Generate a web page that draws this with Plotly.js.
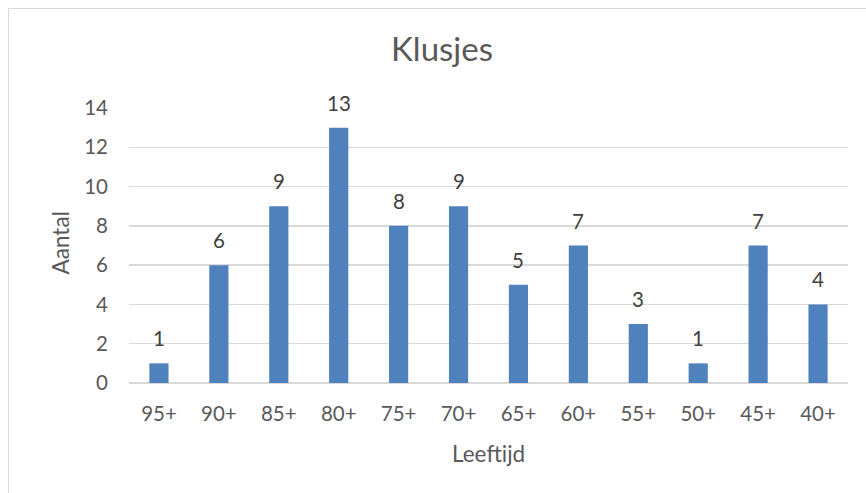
<!DOCTYPE html>
<html>
<head>
<meta charset="utf-8">
<script src="https://cdn.plot.ly/plotly-3.0.1.min.js"></script>
<style>
  html, body { margin: 0; padding: 0; background: #ffffff; }
  #wrap { position: relative; width: 866px; height: 493px; overflow: hidden; }
  #chart { position: absolute; left: 0; top: 0; width: 866px; height: 493px; }
  #frame { position: absolute; left: 8px; top: 8px; width: 900px; height: 520px;
           border-left: 1px solid #d9d9d9; border-top: 1px solid #d9d9d9; pointer-events: none; }
</style>
</head>
<body>
<div id="wrap">
  <div id="chart"></div>
  <div id="frame"></div>
</div>
<script>
const categories = ["95+", "90+", "85+", "80+", "75+", "70+", "65+", "60+", "55+", "50+", "45+", "40+"];
const values = [1, 6, 9, 13, 8, 9, 5, 7, 3, 1, 7, 4];
const yTicks = [0, 2, 4, 6, 8, 10, 12, 14];
const chartTitle = "Klusjes";
const xTitle = "Leeftijd";
const yTitle = "Aantal";

const FONT = "Lato, 'Open Sans', sans-serif";

const labelAnnotations = categories.map((c, i) => ({
  x: c, y: values[i], xref: 'x', yref: 'y',
  text: String(values[i]), showarrow: false,
  yanchor: 'bottom', yshift: 11,
  font: { family: FONT, size: 20.5, color: '#404040' }
}));

const data = [{
  type: 'bar',
  x: categories,
  y: values,
  marker: { color: '#4F81BD' },
  hoverinfo: 'x+y'
}];

const layout = {
  width: 866, height: 493,
  margin: { l: 129, r: 18, t: 108, b: 110 },
  paper_bgcolor: '#ffffff',
  plot_bgcolor: '#ffffff',
  showlegend: false,
  bargap: 0.68,
  font: { family: FONT, color: '#595959' },
  xaxis: {
    type: 'category',
    showgrid: false, zeroline: false, showline: false,
    ticks: '', ticklabelstandoff: 16,
    tickfont: { family: FONT, size: 20.5, color: '#595959' }
  },
  yaxis: {
    range: [0, 14],
    tickvals: yTicks,
    showgrid: true, gridcolor: '#d9d9d9', gridwidth: 1.3,
    zeroline: true, zerolinecolor: '#d9d9d9', zerolinewidth: 1.3,
    showline: false, ticks: '', ticklabelstandoff: 20,
    tickfont: { family: FONT, size: 20.5, color: '#595959' }
  },
  annotations: labelAnnotations.concat([
    { text: chartTitle, xref: 'paper', yref: 'paper', x: 0.5, y: 1, xshift: -47, yshift: 38,
      xanchor: 'center', yanchor: 'bottom', showarrow: false,
      font: { family: FONT, size: 33, color: '#595959' } },
    { text: yTitle, xref: 'paper', yref: 'paper', x: 0, y: 0.5, xshift: -69, yshift: 2,
      xanchor: 'center', yanchor: 'middle', textangle: -90, showarrow: false,
      font: { family: FONT, size: 22.5, color: '#595959' } },
    { text: xTitle, xref: 'paper', yref: 'paper', x: 0.5, y: 0, yshift: -70,
      xanchor: 'center', yanchor: 'middle', showarrow: false,
      font: { family: FONT, size: 22.5, color: '#595959' } }
  ])
};

Plotly.newPlot('chart', data, layout, { displayModeBar: false, staticPlot: true });
</script>
</body>
</html>
